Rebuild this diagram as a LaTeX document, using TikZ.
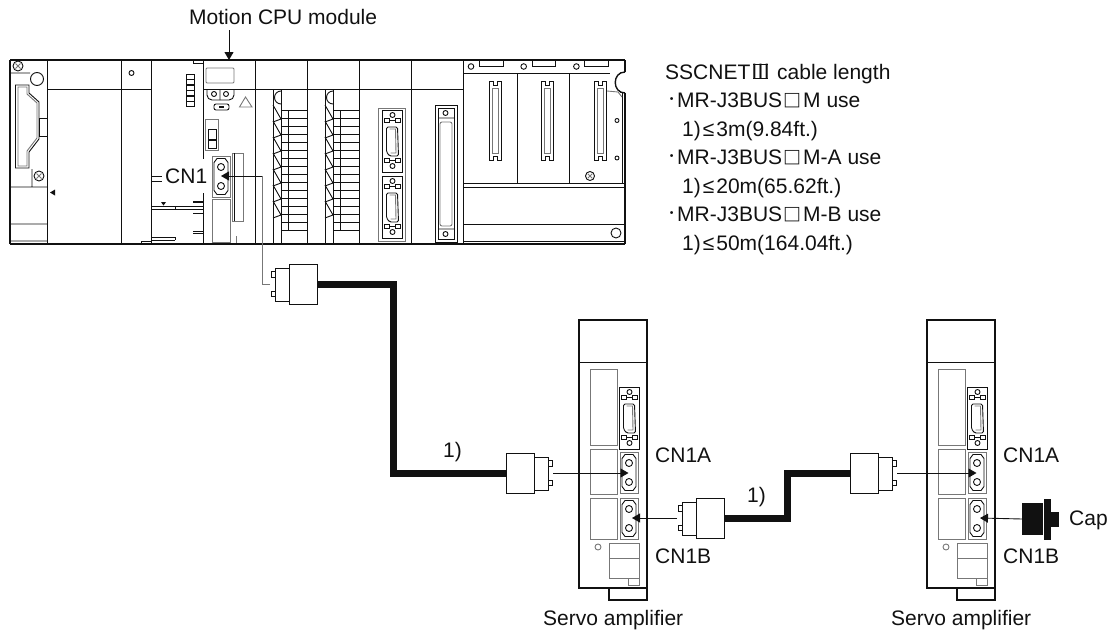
\documentclass[tikz,border=0pt]{standalone}
\usepackage{fontspec}
\usepackage{xcolor}
\usepackage{tikz}
\usetikzlibrary{arrows.meta}
\setmainfont{Liberation Sans}
\newfontfamily\cjkfont{Noto Sans CJK JP}
\definecolor{fg}{HTML}{111111}
\definecolor{dim}{HTML}{777777}
\newcommand{\boxmark}{\makebox[21pt]{\cjkfont\bfseries\fontsize{18}{20}\selectfont □}}
\newcommand{\romanmark}{\rlap{\kern3pt\rule{15pt}{0.9pt}}\rlap{\kern3pt\rule[14.6pt]{15pt}{0.9pt}}{\cjkfont Ⅲ}}
\newcommand{\dotmark}{\makebox[11pt]{\raisebox{5pt}{\scalebox{0.5}{\textbullet}}}}
\newcommand{\lemark}{\kern2pt≤\kern2pt}
\tikzset{
  thin line/.style={draw=fg,line width=0.9pt},
  soft line/.style={draw=dim,line width=0.9pt},
  heavy line/.style={draw=fg,line width=2.2pt},
  cable/.style={draw=fg,line width=7pt},
  leader/.style={draw=fg,line width=0.9pt,-{Triangle[length=8pt,width=9pt]}},
  caption/.style={font=\fontsize{21}{25}\selectfont,text=fg,inner sep=0pt,anchor=base west},
  screw/.pic={
    \draw[thin line] (0,0) circle (5);
    \draw[soft line] (-2.5,-2.5) -- (2.5,2.5) (-2.5,2.5) -- (2.5,-2.5);
  },
  dsub/.pic={
    \draw[thin line] (-10,-31) rectangle (10,31);
    \draw[thin line] (0,-26) circle (2.5) (0,25) circle (2.5);
    \draw[thin line] (-8,-23) rectangle (-3,-19) (3,-23) rectangle (8,-19) (-3,-21) -- (3,-21);
    \draw[thin line] (-8,17) rectangle (-3,21) (3,17) rectangle (8,21) (-3,19) -- (3,19);
    \draw[thin line,rounded corners=1.5pt] (-6,-14) -- (5,-14) -- (6,15) -- (-3,15) -- (-6,11) -- cycle;
    \draw[soft line] (-3,-12) -- (3,-12) -- (3.5,12) -- (-2,12);
  },
  port/.pic={
    \draw[soft line] (-9,-20.5) rectangle (9,20.5);
    \draw[thin line] (-4,-18) -- (4,-18) -- (7,-14) -- (7,14) -- (4,18) -- (-4,18) -- (-7,14) -- (-7,-14) -- cycle;
    \draw[thin line] (0,-9.5) circle (3.5) (0,9.5) circle (3.5);
  },
  plug/.pic={
    \coordinate (-tail) at (0,0);
    \coordinate (-tip) at (47,0);
    \draw[thin line,fill=white] (0,-20) rectangle (28,20);
    \draw[thin line] (28,-16) -- (42,-16) -- (42,17) -- (28,17);
    \draw[thin line] (42,-13) rectangle (46,-7) (42,7) rectangle (46,12);
  },
  slot/.pic={
    \draw[thin line] (-6,0) -- (-6,79) -- (-2,79) -- (-2,75) -- (2,75) -- (2,79) -- (6,79) -- (6,0) -- (2,0) -- (2,4) -- (-2,4) -- (-2,0) -- cycle;
    \draw[soft line] (-3,7) -- (3,7) -- (3,72) -- (-3,72) -- cycle;
  },
  amp/.pic={
    \draw[heavy line,line width=1.6pt] (0,0) rectangle (68,268);
    \draw[heavy line,line width=1.6pt] (30,268) -- (30,280) -- (68,280) -- (68,268);
    \draw[thin line] (0,42) -- (68,42);
    \draw[soft line] (11,49) rectangle (38,125) (11,129) rectangle (38,174) (11,178) rectangle (38,219);
    \path (50.5,98) pic {dsub};
    \path (50,152.5) pic {port};
    \path (50,198.5) pic {port};
    \coordinate (-cna) at (49.5,153);
    \coordinate (-cnb) at (53,198);
    \draw[soft line] (19,227) circle (3);
    \draw[soft line] (30,223) rectangle (60,258) (30,238) -- (60,238) (49,258) rectangle (60,265);
  }
}

\begin{document}
\begin{tikzpicture}[x=1pt,y=-1pt]
  \useasboundingbox (0,0) rectangle (1119,632);

  % module rack
  \draw[thin line] (47.5,60) -- (47.5,244) (121,60) -- (121,244) (151.5,60) -- (151.5,244)
    (203.5,60) -- (203.5,244) (255,60) -- (255,244) (273,89) -- (273,244) (281,89) -- (281,244)
    (307,60) -- (307,244) (325,89) -- (325,244) (333,89) -- (333,244) (359,60) -- (359,244)
    (411,60) -- (411,244) (463,60) -- (463,244);
  \draw[thin line] (47.5,89) -- (151.5,89) (203.5,89) -- (463,89);

  % left power module
  \path (18,66) pic {screw};
  \path (39,176) pic {screw};
  \draw[thin line] (10,73) -- (30,73) (37,79) circle (6.5) (32,169) -- (32,187) (10,187) -- (47.5,187)
    (10,224) -- (47.5,224) (10,241) -- (47.5,241);
  \draw[thin line] (15.5,85) -- (29,85) -- (29,93) -- (39,102) -- (39,139) -- (29,152) -- (29,168) -- (15.5,168) -- cycle;
  \draw[soft line] (18,87) -- (27,87) -- (27,94) -- (37,103) -- (37,138) -- (27,151) -- (27,166) -- (18,166) -- cycle;
  \draw[thin line] (39,118) -- (47.5,118) (39,136) -- (47.5,136) (39,118) -- (39,136);
  \fill[fg] (50,192.5) -- (55,189.5) -- (55,195.5) -- cycle;

  % base and I/O lines
  \draw[thin line] (131.5,73) circle (2.5);
  \foreach \ledy in {74,79.5,...,102}
    \draw[thin line] (186,\ledy) rectangle (194,\ledy+5);
  \draw[thin line] (193,60) -- (193,63) -- (203.5,63);
  \draw[thin line] (151.5,206) -- (203.5,206) (151.5,209) -- (203.5,209) (175,206) -- (175,209)
    (151.5,237) -- (175,237) (151.5,240) -- (175,240) (175,237) -- (175,240)
    (141,244) -- (141,241) -- (151.5,241) (193,231) -- (203.5,231) (193,233) -- (203.5,233);
  \draw[fg,line width=1.6pt] (193,202) -- (203,202) (193,213.5) -- (203,213.5);
  \fill[fg] (161,202) -- (166,202) -- (163.5,205.5) -- cycle;

  % CPU face
  \draw[soft line,rounded corners=1pt] (206,68) rectangle (234,83);
  \draw[thin line,rounded corners=5pt] (207,89) -- (207,100) -- (234,100) -- (234,89);
  \draw[thin line] (220,89) -- (220,100) (214,94) circle (2.5) (226,94) circle (2.5);
  \draw[soft line] (239.5,107) -- (252,107) -- (245.5,97) -- cycle;
  \draw[thin line,rounded corners=2pt] (214,104) rectangle (229,110);
  \draw[fg,line width=2pt] (219,107) -- (224,107);
  \draw[soft line] (205,119) rectangle (218,150);
  \draw[thin line] (208,129) rectangle (216,139) (208,140) rectangle (216,148);
  \path (221,176.5) pic {port};
  \coordinate (cn1port) at (221,176);
  \draw[soft line] (232,153) rectangle (243,221) (212,199) rectangle (230,242);
  \draw[thin line] (234,153) -- (234,221);
  \draw[soft line] (236,236) -- (236,243);

  % terminal blocks
  \foreach \blockx in {273,325} {
    \draw[thin line] (\blockx+8,91) arc[start angle=270,end angle=90,radius=6.5];
    \foreach \zigy in {105,121,...,215}
      \draw[thin line] (\blockx,\zigy) -- (\blockx+8,\zigy+14) -- (\blockx,\zigy+17);
  }
  \foreach \rowy in {110.5,118.5,...,231}
    \draw[thin line] (281,\rowy) -- (307,\rowy) (333,\rowy) -- (359,\rowy);
  \draw[thin line] (288,110.5) -- (288,230.5) (340,110.5) -- (340,230.5);

  % I/O module connectors
  \draw[soft line] (378,108) rectangle (405,241);
  \path (392.5,141) pic {dsub};
  \path (392.5,207) pic {dsub};
  \draw[thin line] (435,105) rectangle (457,242) (438,108) rectangle (454,239);
  \draw[thin line] (438,118) -- (454,118) (438,229) -- (454,229) (445.5,113) circle (2.5) (445.5,234) circle (2.5);
  \draw[soft line,rounded corners=2pt] (440,122) rectangle (452,226);

  % right side modules
  \draw[thin line] (463,73) -- (610,73) (517,73) -- (517,183) (569,73) -- (569,183)
    (463,183) -- (625,183) (463,187) -- (625,187) (463,224) -- (625,224) (463,241) -- (625,241)
    (622,92) -- (622,183);
  \foreach \slotx in {0,1,2} {
    \draw[thin line] (471+52.7*\slotx,66.5) circle (2.8);
    \draw[thin line] (479.5+52.7*\slotx,60) rectangle (503+52.7*\slotx,66);
    \path (495+52.5*\slotx,81) pic {slot};
  }
  \draw[thin line] (616,233) circle (5);
  \draw[thin line] (617,120.5) circle (2) (617,158) circle (2);
  \path (590,176) pic[scale=0.9] {screw};

  \draw[heavy line] (10,60) -- (625,60) (10,244) -- (625,244) (10,60) -- (10,244) (625,60) -- (625,72)
    (625,93) -- (625,244);
  \draw[thin line,line width=1.4pt] (625,72) .. controls (612,72) and (612,93) .. (625,93);
  \draw[soft line] (607,91) -- (618,92) -- (622,97);

  % cables and plugs
  \coordinate (bendta) at (393,284.5);
  \coordinate (bendtb) at (393,473);
  \coordinate (bendua) at (787,518);
  \coordinate (bendub) at (787,473);
  \path (317,284.5) pic[xscale=-1] (plugt) {plug};
  \path (506,473) pic (pluga) {plug};
  \path (724,518) pic[xscale=-1] (plugb) {plug};
  \path (850,473) pic (plugc) {plug};
  \draw[cable] (plugt-tail) -- (bendta) -- (bendtb) -- (pluga-tail);
  \draw[cable] (plugb-tail) -- (bendua) -- (bendub) -- (plugc-tail);

  % servo amplifiers
  \path (579,320) pic (ampa) {amp};
  \path (927,320) pic (ampb) {amp};

  % cap
  \node[fill=fg,inner sep=0pt,minimum width=21pt,minimum height=32pt,anchor=west] (capbody) at (1022,519) {};
  \node[fill=fg,inner sep=0pt,minimum width=7pt,minimum height=41pt,anchor=west] (capflange) at (capbody.east) {};
  \node[fill=fg,inner sep=0pt,minimum width=8pt,minimum height=15pt,anchor=west] (cappin) at (capflange.east) {};

  % labels
  \node[caption] (cpulabel) at (189,24) {Motion CPU module};
  \coordinate (cpuarrow) at (229,30);
  \coordinate (cputop) at (229,60);
  \draw[leader] (cpuarrow) -- (cputop);
  \node[caption,anchor=west,fill=white,inner xsep=1pt,minimum height=34pt] (cn1label) at (164,176) {CN1};
  \draw[thin line] (152,176) -- (162,176) (152,181) -- (162,181);
  \node[caption] (linea) at (665,79) {SSCNET\romanmark{} cable length};
  \node[caption] (lineb) at (666,107.5) {\dotmark MR-J3BUS\boxmark M use};
  \node[caption] (linec) at (682,136) {1)\lemark 3m(9.84ft.)};
  \node[caption] (lined) at (666,164.5) {\dotmark MR-J3BUS\boxmark M-A use};
  \node[caption] (linee) at (682,193) {1)\lemark 20m(65.62ft.)};
  \node[caption] (linef) at (666,221.5) {\dotmark MR-J3BUS\boxmark M-B use};
  \node[caption] (lineg) at (682,250) {1)\lemark 50m(164.04ft.)};
  \node[caption] (lena) at (443,457) {1)};
  \node[caption] (lenb) at (747,502) {1)};
  \node[caption] (cnaa) at (655,462) {CN1A};
  \node[caption] (cnba) at (655,563) {CN1B};
  \node[caption] (cnab) at (1003,462) {CN1A};
  \node[caption] (cnbb) at (1003,563) {CN1B};
  \node[caption] (caplabel) at (1069,525) {Cap};
  \node[caption] (ampalabel) at (543,625) {Servo amplifier};
  \node[caption] (ampblabel) at (891,625) {Servo amplifier};

  % connector leads
  \coordinate (leadbot) at (262,284.5);
  \coordinate (leadtop) at (262,176);
  \draw[soft line] (plugt-tip) -- (leadbot) -- (leadtop);
  \draw[leader] (leadtop) -- (cn1port);
  \draw[leader] (pluga-tip) -- (ampa-cna);
  \draw[leader] (plugb-tip) -- (ampa-cnb);
  \draw[leader] (plugc-tip) -- (ampb-cna);
  \draw[leader] (capbody.west) -- (ampb-cnb);
\end{tikzpicture}
\end{document}
